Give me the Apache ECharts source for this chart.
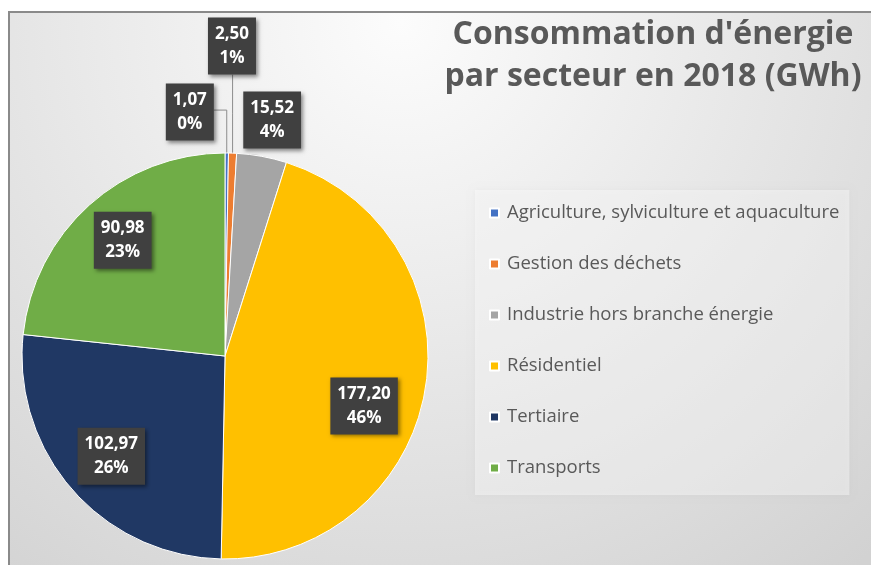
<!DOCTYPE html>
<html>
<head>
<meta charset="utf-8">
<style>
  html, body { margin: 0; padding: 0; background: #fff; }
  #chart { width: 871px; height: 565px; }
</style>
<script src="https://cdn.jsdelivr.net/npm/echarts@6/dist/echarts.min.js"></script>
</head>
<body>
<div id="chart"></div>
<script>
// Energy consumption by sector, 2018 (GWh)
const categories = [
  'Agriculture, sylviculture et aquaculture',
  'Gestion des déchets',
  'Industrie hors branche énergie',
  'Résidentiel',
  'Tertiaire',
  'Transports'
];
const valuesGWh = [1.07, 2.50, 15.52, 177.20, 102.97, 90.98];
const titleLines = ["Consommation d'énergie", 'par secteur en 2018 (GWh)'];

// Styling
const sliceColors = ['#4472C4', '#ED7D31', '#A5A5A5', '#FFC000', '#203864', '#70AD47'];
const PIE_CENTER = [225, 356];
const PIE_RADIUS = 203;
// Label placement: distance from centre (fraction of radius) and angular nudge (deg) off the slice's mid-angle
const labelPlacement = [
  { r: 1.214, nudge: -8.7, line: 'side' },
  { r: 1.527, nudge: -0.85, line: 'below' },
  { r: 1.185, nudge: 0.85, line: null },
  { r: 0.728, nudge: 10.4, line: null },
  { r: 0.747, nudge: 0, line: null },
  { r: 0.761, nudge: 0.5, line: null }
];

const total = valuesGWh.reduce((a, b) => a + b, 0);
// mid-angle of each slice, degrees clockwise from 12 o'clock
const midAngles = [];
let acc = 0;
valuesGWh.forEach(v => {
  const span = v / total * 360;
  midAngles.push(acc + span / 2);
  acc += span;
});
function polar(rPx, deg) {
  const a = deg * Math.PI / 180;
  return [PIE_CENTER[0] + rPx * Math.sin(a), PIE_CENTER[1] - rPx * Math.cos(a)];
}
const fmt = v => v.toFixed(2).replace('.', ',');

const FONT = '"Open Sans", "Noto Sans", sans-serif';

const chart = echarts.init(document.getElementById('chart'), null, { renderer: 'canvas' });

const pieData = categories.map((name, i) => ({
  name: name,
  value: valuesGWh[i],
  itemStyle: { color: sliceColors[i] },
  label: { position: labelPlacement[i].line ? 'outside' : 'inside' },
  labelLine: { show: !!labelPlacement[i].line }
}));

chart.setOption({
  backgroundColor: '#ffffff',
  animation: false,
  graphic: [{
    type: 'rect',
    z: -10,
    silent: true,
    shape: { x: 9, y: 12, width: 871, height: 565 },
    style: {
      fill: new echarts.graphic.RadialGradient(0.45, 0.02, 1.25, [
        { offset: 0, color: '#fcfcfc' },
        { offset: 1, color: '#d2d2d2' }
      ]),
      stroke: '#8a8a8a',
      lineWidth: 2
    }
  }],
  title: {
    text: titleLines.join('\n'),
    left: 648,
    top: 9,
    textAlign: 'center',
    textStyle: {
      fontFamily: FONT,
      fontSize: 32,
      fontWeight: 'bold',
      color: '#595959',
      lineHeight: 42
    }
  },
  legend: {
    orient: 'vertical',
    left: 475,
    top: 190,
    padding: [12, 10, 16, 14],
    itemGap: 29,
    itemWidth: 9,
    itemHeight: 9,
    icon: 'rect',
    backgroundColor: 'rgba(255,255,255,0.4)',
    shadowColor: 'rgba(0,0,0,0.08)',
    shadowBlur: 6,
    textStyle: {
      fontFamily: FONT,
      fontSize: 18.5,
      lineHeight: 22,
      color: '#595959',
      padding: [0, 0, 0, 3]
    },
    data: categories
  },
  series: [{
    type: 'pie',
    center: PIE_CENTER,
    radius: PIE_RADIUS,
    startAngle: 90,
    clockwise: true,
    avoidLabelOverlap: false,
    percentPrecision: 0,
    data: pieData,
    itemStyle: { borderColor: '#ffffff', borderWidth: 1 },
    emphasis: { disabled: true },
    label: {
      show: true,
      formatter: p => fmt(p.value) + '\n' + p.percent + '%',
      fontFamily: FONT,
      fontSize: 17,
      fontWeight: 'bold',
      lineHeight: 24,
      color: '#ffffff',
      align: 'center',
      backgroundColor: '#404040',
      padding: [5, 7, 4, 7],
      shadowColor: 'rgba(0,0,0,0.45)',
      shadowBlur: 4,
      shadowOffsetX: 2,
      shadowOffsetY: 2
    },
    labelLine: {
      lineStyle: { color: '#8c8c8c', width: 1 },
      length: 10,
      length2: 10
    },
    labelLayout: function (params) {
      const i = params.dataIndex;
      const place = labelPlacement[i];
      const pos = polar(PIE_RADIUS * place.r, midAngles[i] + place.nudge);
      const w = params.labelRect.width, h = params.labelRect.height;
      const out = { x: pos[0], y: pos[1], align: 'center', verticalAlign: 'middle' };
      const edge = polar(PIE_RADIUS, midAngles[i]);
      if (place.line === 'below') {
        out.labelLinePoints = [edge, [edge[0], (edge[1] + pos[1] + h / 2) / 2], [edge[0], pos[1] + h / 2]];
      } else if (place.line === 'side') {
        out.labelLinePoints = [edge, [edge[0], pos[1] - 2], [pos[0] + w / 2, pos[1] - 2]];
      }
      return out;
    }
  }]
});
</script>
</body>
</html>
